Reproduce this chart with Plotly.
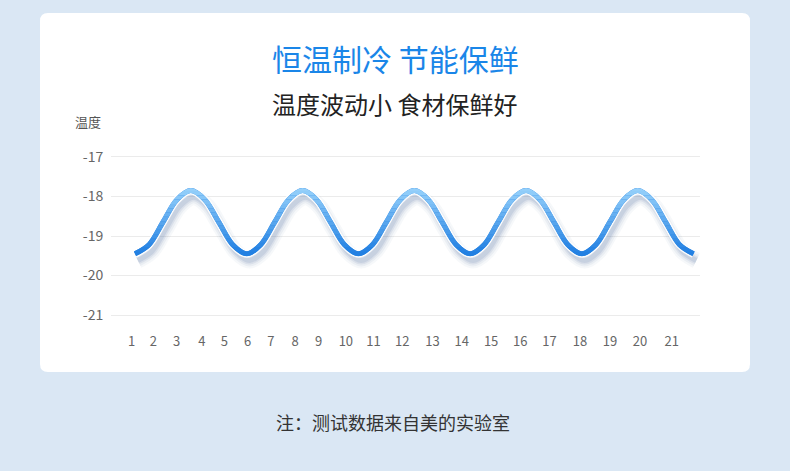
import plotly.graph_objects as go

# wave samples, one every eighth of a period (starting at a trough)
wave_step = [i / 2 for i in range(41)]
wave_temp = [-19.45, -19.22, -18.65, -18.08, -17.85, -18.08, -18.65, -19.22,
             -19.45, -19.22, -18.65, -18.08, -17.85, -18.08, -18.65, -19.22,
             -19.45, -19.22, -18.65, -18.08, -17.85, -18.08, -18.65, -19.22,
             -19.45, -19.22, -18.65, -18.08, -17.85, -18.08, -18.65, -19.22,
             -19.45, -19.22, -18.65, -18.08, -17.85, -18.08, -18.65, -19.22,
             -19.45]

day_labels = [str(i) for i in range(1, 22)]
# where each day label sits on the wave's step scale
day_pos = [-0.12, 0.66, 1.49, 2.39, 3.20, 4.03, 4.86, 5.73, 6.57, 7.55, 8.54,
           9.57, 10.65, 11.70, 12.75, 13.79, 14.84, 15.93, 17.01, 18.08, 19.22]
temp_ticks = [-17, -18, -19, -20, -21]
temp_labels = ["-17", "-18", "-19", "-20", "-21"]

title = "恒温制冷 节能保鲜"
subtitle = "温度波动小 食材保鲜好"
y_title = "温度"
note = "注：测试数据来自美的实验室"

W, H = 790, 471
L, R, T, B = 111, 90, 153, 152
pw, ph = W - L - R, H - T - B
YMIN, YMAX = -21.1, -16.9
XMIN, XMAX = -0.86, 20.23


def px(x):
    return (x - L) / pw


def py(y):
    return (H - B - y) / ph


dark = (34, 128, 226)
light = (148, 207, 250)


def mix(t):
    t = max(0.0, min(1.0, t))
    c = [round(a + (b - a) * t) for a, b in zip(dark, light)]
    return f"rgb({c[0]},{c[1]},{c[2]})"


line_kw = dict(shape="spline", smoothing=1.0)
fig = go.Figure()

# soft shadow under the curve
shadow = [v - 0.17 for v in wave_temp]
shadow_x = [s + 0.1 for s in wave_step]
for w, a in [(16, 0.05), (12, 0.07), (8, 0.10), (5, 0.13)]:
    fig.add_trace(go.Scatter(
        x=shadow_x, y=shadow, mode="lines",
        line=dict(color=f"rgba(80,110,160,{a})", width=w, **line_kw),
        hoverinfo="skip", showlegend=False,
    ))

# thin white halo between line and shadow
fig.add_trace(go.Scatter(
    x=wave_step, y=wave_temp, mode="lines",
    line=dict(color="rgba(255,255,255,0.9)", width=8, **line_kw),
    hoverinfo="skip", showlegend=False,
))

fig.add_trace(go.Scatter(
    x=wave_step, y=wave_temp, mode="lines",
    line=dict(color=mix(0), width=5, **line_kw),
    showlegend=False,
))

# vertical colour gradient: the same curve clipped into horizontal bands
n_bands = 16
lo_v, hi_v = -19.5, -17.75
edges = [lo_v + (hi_v - lo_v) * i / n_bands for i in range(n_bands + 1)]
edges[-1] = YMAX
layout_axes = {}
for i in range(n_bands):
    lo, hi = edges[i], edges[i + 1]
    ax = f"y{i + 2}"
    mid = min((lo + hi) / 2, hi_v)
    fig.add_trace(go.Scatter(
        x=wave_step, y=wave_temp, mode="lines", xaxis="x", yaxis=ax,
        line=dict(color=mix((mid - (-19.4)) / (-17.85 - (-19.4))), width=5, **line_kw),
        hoverinfo="skip", showlegend=False,
    ))
    layout_axes[f"yaxis{i + 2}"] = dict(
        domain=[(lo - YMIN) / (YMAX - YMIN), (hi - YMIN) / (YMAX - YMIN)],
        range=[lo, hi], visible=False, anchor="x", fixedrange=True,
    )

# white card with rounded corners
x0, x1, y0, y1, r = 40, 750, 13, 372, 8
path = (f"M{px(x0 + r)},{py(y0)} L{px(x1 - r)},{py(y0)} Q{px(x1)},{py(y0)} {px(x1)},{py(y0 + r)} "
        f"L{px(x1)},{py(y1 - r)} Q{px(x1)},{py(y1)} {px(x1 - r)},{py(y1)} "
        f"L{px(x0 + r)},{py(y1)} Q{px(x0)},{py(y1)} {px(x0)},{py(y1 - r)} "
        f"L{px(x0)},{py(y0 + r)} Q{px(x0)},{py(y0)} {px(x0 + r)},{py(y0)} Z")
fig.add_shape(type="path", path=path, xref="paper", yref="paper",
              fillcolor="white", line=dict(width=0), layer="below")

font = "Noto Sans CJK SC"


def label(text, x, y, size, color, weight=400):
    fig.add_annotation(text=text, x=px(x), y=py(y), xref="paper", yref="paper",
                       xanchor="center", yanchor="middle", showarrow=False,
                       font=dict(family=font, size=size, color=color, weight=weight))


label(title, 395, 58, 30, "#1a86e8")
label(subtitle, 394, 103, 24, "#222222")
label(y_title, 88, 122, 13, "#555555")
label(note, 393, 422, 18, "#333333")

fig.update_layout(
    width=W, height=H,
    margin=dict(l=L, r=R, t=T, b=B),
    paper_bgcolor="#dae7f4",
    plot_bgcolor="rgba(0,0,0,0)",
    font=dict(family=font, color="#666666"),
    xaxis=dict(range=[XMIN, XMAX], tickvals=day_pos, ticktext=day_labels,
               showgrid=False, zeroline=False, showline=False,
               ticks="outside", ticklen=10, tickcolor="rgba(0,0,0,0)",
               tickfont=dict(size=13, color="#666666"), fixedrange=True),
    yaxis=dict(range=[YMIN, YMAX], tickvals=temp_ticks, ticktext=temp_labels,
               showgrid=True, gridcolor="#ebebeb", gridwidth=1, zeroline=False,
               ticks="outside", ticklen=4, tickcolor="rgba(0,0,0,0)",
               tickfont=dict(size=14, color="#666666"), fixedrange=True),
    **layout_axes,
)

fig.write_html("out.html", config={"displayModeBar": False},
               post_script="document.body.style.margin='0';")
